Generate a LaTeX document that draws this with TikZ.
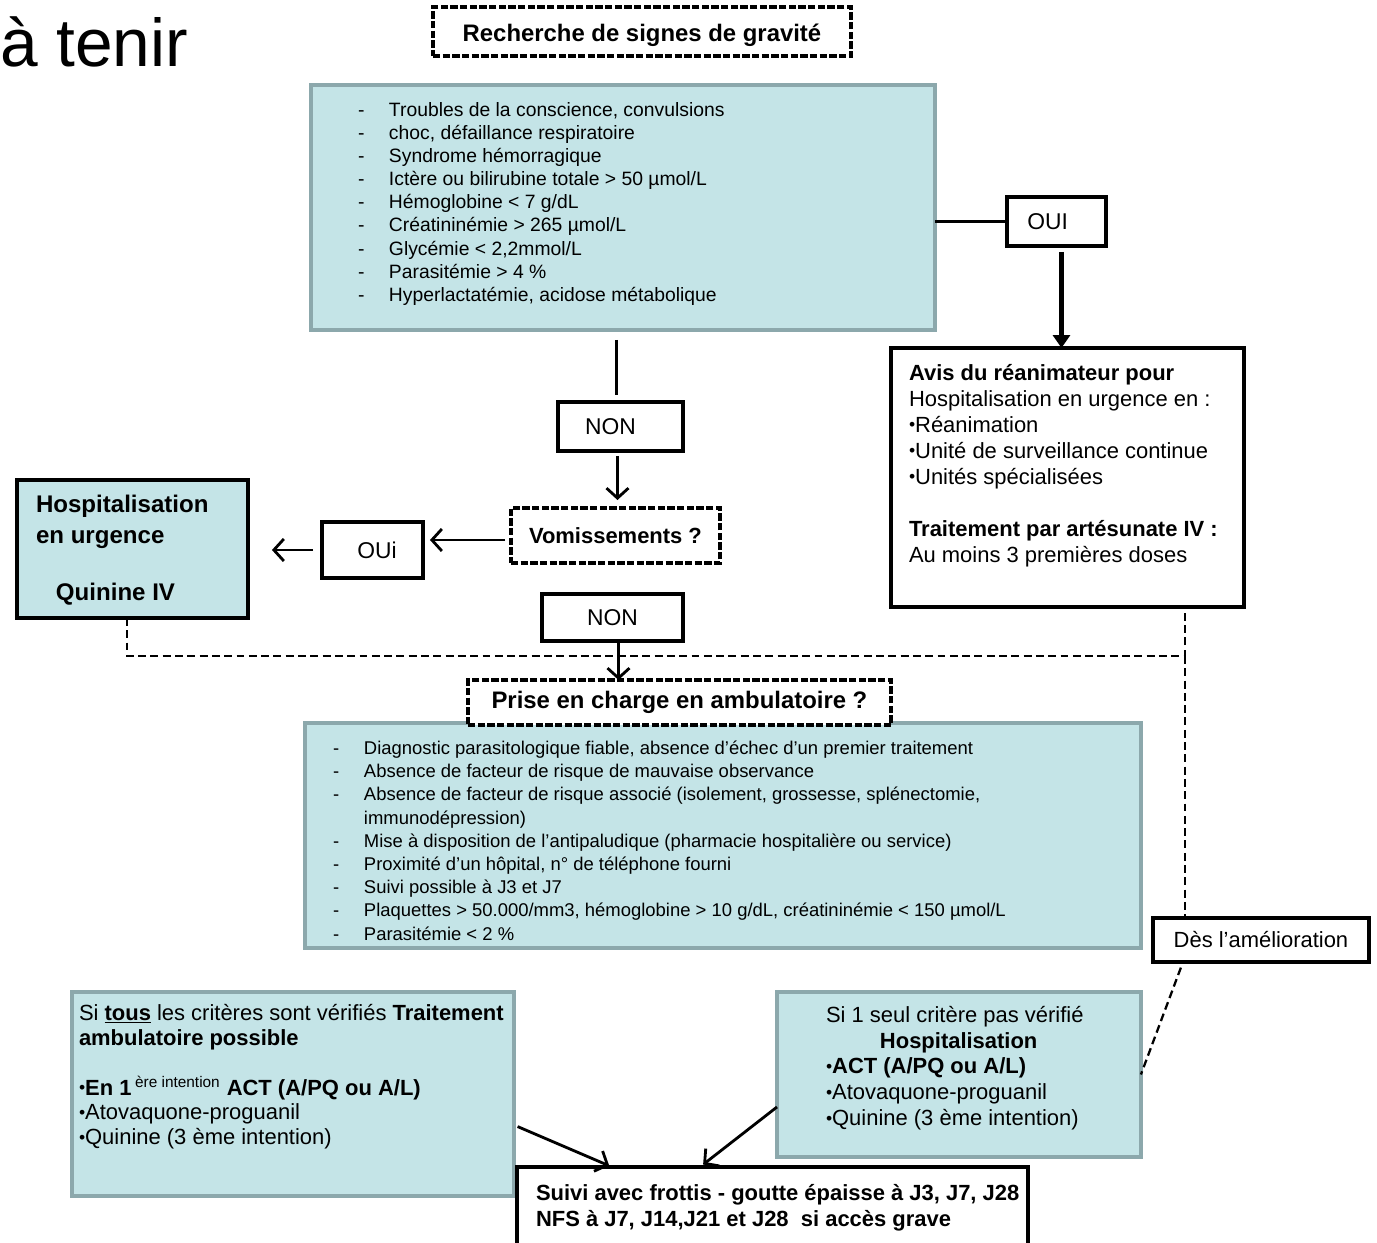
\documentclass[tikz,border=0pt]{standalone}
\usepackage{fontspec}
\setmainfont{Liberation Sans}
\usetikzlibrary{arrows.meta,positioning}

\definecolor{tealfill}{RGB}{196,228,231}
\definecolor{tealedge}{RGB}{140,168,172}
\newcommand{\bul}{\raisebox{0.1ex}{\scalebox{0.8}{•}}}
\newcommand{\dashitem}[1]{\makebox[0.62cm][l]{-}#1}

\begin{document}
\begin{tikzpicture}[
    x=0.02cm, y=-0.02cm,
    every node/.style={inner sep=0pt, outer sep=0pt},
    tealbox/.style={draw=tealedge, fill=tealfill, line width=2.2pt, anchor=north west},
    blackbox/.style={draw, fill=white, line width=2.2pt, anchor=north west},
    dashbox/.style={draw, fill=white, line width=2pt, dash pattern=on 4.2pt off 1.3pt, anchor=north west},
    txt/.style={anchor=north west, align=left},
    conn/.style={line width=1.2pt},
    arrow/.style={-{Straight Barb[length=2mm,width=4.4mm]}, line width=1.6pt},
    bigarrow/.style={-{Triangle[length=2.6mm,width=3.4mm]}, line width=2.8pt},
    dashline/.style={line width=1.3pt, dash pattern=on 4.5pt off 2.5pt}
  ]
  \useasboundingbox (0,0) rectangle (1377,1243);

  \node[anchor=base west, font=\fontsize{38.5}{42}\selectfont] (title) at (0,67) {à tenir};

  % severity signs
  \node[dashbox, minimum width=8.36cm, minimum height=0.98cm, font=\fontsize{13.6}{16}\selectfont\bfseries, text height=0.5cm] (rech) at (433,7) {Recherche de signes de gravité};
  \node[tealbox, minimum width=12.48cm, minimum height=4.9cm] (signs) at (311,85) {};
  \node[txt, font=\fontsize{11}{13.2}\selectfont] (signstxt) at (358,102) {%
    \dashitem{Troubles de la conscience, convulsions}\\
    \dashitem{choc, défaillance respiratoire}\\
    \dashitem{Syndrome hémorragique}\\
    \dashitem{Ictère ou bilirubine totale > 50 µmol/L}\\
    \dashitem{Hémoglobine < 7 g/dL}\\
    \dashitem{Créatininémie > 265 µmol/L}\\
    \dashitem{Glycémie < 2,2mmol/L}\\
    \dashitem{Parasitémie > 4 \%}\\
    \dashitem{Hyperlactatémie, acidose métabolique}};

  % severe branch
  \node[blackbox, minimum width=1.98cm, minimum height=0.98cm, font=\fontsize{13}{15}\selectfont] (oui1) at (1007,197) {OUI\hspace*{0.35cm}};
  \node[blackbox, minimum width=7.06cm, minimum height=5.18cm] (avis) at (891,348) {};
  \node[txt, font=\fontsize{12.5}{14.8}\selectfont] (avistxt) at (909,364) {%
    \textbf{Avis du réanimateur pour}\\
    Hospitalisation en urgence en :\\
    \bul Réanimation\\
    \bul Unité de surveillance continue\\
    \bul Unités spécialisées\\[14.8pt]
    \textbf{Traitement par artésunate IV :}\\
    Au moins 3 premières doses};

  % non severe branch
  \node[blackbox, minimum width=2.5cm, minimum height=0.98cm, font=\fontsize{13}{15}\selectfont] (non1) at (558,402) {NON\hspace*{0.4cm}};
  \node[dashbox, minimum width=4.18cm, minimum height=1.1cm, font=\fontsize{12.5}{15}\selectfont\bfseries] (vomit) at (511,508) {Vomissements ?};
  \node[blackbox, minimum width=2.02cm, minimum height=1.12cm, font=\fontsize{13}{15}\selectfont] (oui2) at (322,522) {\hspace*{0.18cm}OUi};
  \node[blackbox, fill=tealfill, minimum width=4.62cm, minimum height=2.76cm] (hosp) at (17,480) {};
  \node[txt, font=\fontsize{13.7}{17.6}\selectfont\bfseries] (hosptxt) at (36,495) {%
    Hospitalisation\\
    en urgence\\[14.8pt]
    \hspace*{0.4cm}Quinine IV};
  \node[blackbox, minimum width=2.82cm, minimum height=0.94cm, font=\fontsize{13}{15}\selectfont] (non2) at (542,594) {NON};

  % ambulatory criteria
  \node[tealbox, minimum width=16.72cm, minimum height=4.5cm] (crit) at (305,723) {};
  \node[dashbox, minimum width=8.46cm, minimum height=0.9cm, font=\fontsize{13.6}{16}\selectfont\bfseries] (prise) at (468,680) {Prise en charge en ambulatoire ?};
  \node[txt, font=\fontsize{10.5}{13.2}\selectfont] (crittxt) at (333,741) {%
    \dashitem{Diagnostic parasitologique fiable, absence d’échec d’un premier traitement}\\
    \dashitem{Absence de facteur de risque de mauvaise observance}\\
    \dashitem{Absence de facteur de risque associé (isolement, grossesse, splénectomie,}\\
    \hspace*{0.62cm}immunodépression)\\
    \dashitem{Mise à disposition de l’antipaludique (pharmacie hospitalière ou service)}\\
    \dashitem{Proximité d’un hôpital, n° de téléphone fourni}\\
    \dashitem{Suivi possible à J3 et J7}\\
    \dashitem{Plaquettes > 50.000/mm3, hémoglobine > 10 g/dL, créatininémie < 150 µmol/L}\\
    \dashitem{Parasitémie < 2 \%}};

  \node[blackbox, line width=1.8pt, minimum width=4.32cm, minimum height=0.88cm, font=\fontsize{12.5}{15}\selectfont] (des) at (1153,918) {Dès l’amélioration};

  % outcomes
  \node[tealbox, minimum width=8.84cm, minimum height=4.08cm] (lcase) at (72,992) {};
  \node[txt, font=\fontsize{12.5}{14.2}\selectfont] (lcasetxt) at (79,1004) {%
    Si \textbf{\underline{tous}} les critères sont vérifiés \textbf{Traitement}\\
    \textbf{ambulatoire possible}\\[14.2pt]
    \bul\textbf{En 1}\,\textsuperscript{ère intention} \textbf{ACT (A/PQ ou A/L)}\\
    \bul Atovaquone-proguanil\\
    \bul Quinine (3 ème intention)};
  \node[tealbox, minimum width=7.28cm, minimum height=3.3cm] (rcase) at (777,992) {};
  \node[txt, font=\fontsize{12.5}{14.7}\selectfont] (rcasetxt) at (826,1006) {%
    Si 1 seul critère pas vérifié\\
    \hspace*{1.08cm}\textbf{Hospitalisation}\\
    \bul\textbf{ACT (A/PQ ou A/L)}\\
    \bul Atovaquone-proguanil\\
    \bul Quinine (3 ème intention)};
  \node[blackbox, minimum width=10.22cm, minimum height=1.8cm] (suivi) at (517,1167) {};
  \node[txt, font=\fontsize{12.5}{14.8}\selectfont\bfseries] (suivitxt) at (536,1184) {%
    Suivi avec frottis - goutte épaisse à J3, J7, J28\\
    NFS à J7, J14,J21 et J28~ si accès grave};

  % connectors
  \draw[conn] (signs.east |- oui1.west) -- (oui1.west);
  \draw[bigarrow, shorten <=0.12cm] ([xshift=0.1cm]oui1.south) -- ([xshift=0.1cm]oui1.south |- avis.north);
  \draw[conn, shorten <=0.2cm, shorten >=0.14cm] ([xshift=-0.08cm]signs.south -| non1.north) -- ([xshift=-0.08cm]non1.north);
  \draw[arrow, shorten <=0.1cm, shorten >=0.16cm] ([xshift=-0.06cm]non1.south) -- ([xshift=-0.06cm]non1.south |- vomit.north);
  \draw[arrow, shorten <=0.12cm, shorten >=0.14cm] ([yshift=-0.09cm]vomit.west) -- ([yshift=-0.09cm]vomit.west -| oui2.east);
  \draw[arrow, shorten <=0.18cm, shorten >=0.48cm] (oui2.west) -- (oui2.west -| hosp.east);
  \draw[arrow] ([xshift=0.12cm]non2.south) -- ([xshift=0.12cm]non2.south |- prise.north);
  \coordinate (jn) at (1185,656);
  \draw[dashline] ([xshift=-0.11cm]hosp.south) |- (jn) -- (jn |- avis.south);
  \draw[dashline] (jn) -- (jn |- des.north);
  \draw[dashline, shorten <=0.12cm] ([xshift=0.6cm]des.south west) -- (rcase.east);
  \draw[arrow, shorten <=0.08cm, shorten >=0.06cm] ([yshift=-0.62cm]lcase.east) -- ([xshift=1.9cm]suivi.north west);
  \draw[arrow, shorten >=0.08cm] ([yshift=-0.65cm]rcase.west) -- ([xshift=3.66cm]suivi.north west);
\end{tikzpicture}
\end{document}
